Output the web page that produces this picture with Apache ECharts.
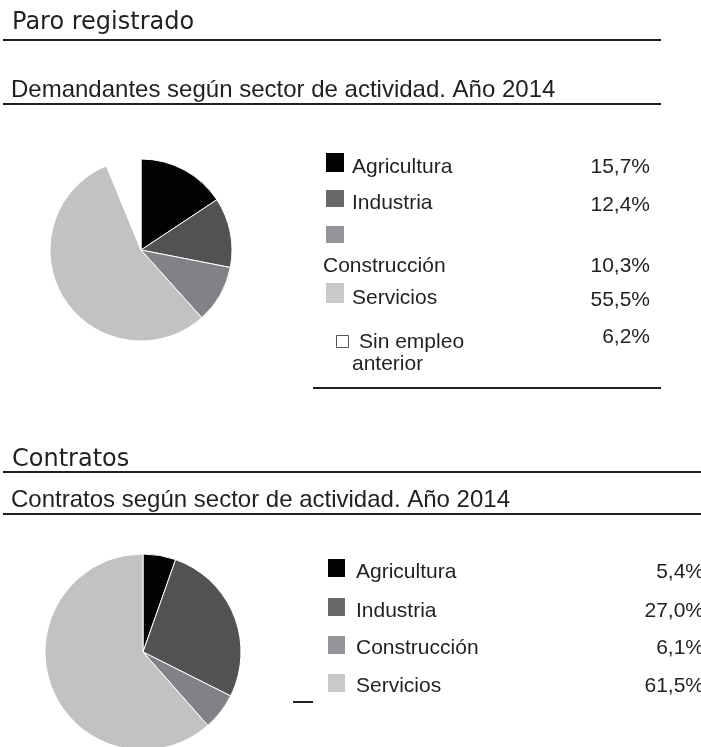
<!DOCTYPE html>
<html>
<head>
<meta charset="utf-8">
<script src="https://cdn.jsdelivr.net/npm/echarts@6/dist/echarts.min.js"></script>
<style>
  html, body { margin: 0; padding: 0; background: #fff; }
  #chart { width: 701px; height: 747px; }
</style>
</head>
<body>
<div id="chart"></div>
<script>
// categories and values (percent)
var paroCategories = ['Agricultura', 'Industria', 'Construcción', 'Servicios', 'Sin empleo anterior'];
var paroValues = [15.7, 12.4, 10.3, 55.5, 6.2];
var contratosCategories = ['Agricultura', 'Industria', 'Construcción', 'Servicios'];
var contratosValues = [5.4, 27.0, 6.1, 61.5];

var sliceColors = ['#030303', '#525254', '#808285', '#c1c2c4', '#ffffff'];
var keyColors = ['#030303', '#68686b', '#939598', '#c8c9cb', '#ffffff'];

var ink = '#231f20';
var chart = echarts.init(document.getElementById('chart'));

function pct(v) {
    return v.toFixed(1).replace('.', ',') + '%';
}

function hline(x1, x2, y) {
    return {
        type: 'line',
        shape: { x1: x1, y1: y, x2: x2, y2: y },
        style: { stroke: ink, lineWidth: 2 }
    };
}

function txt(s, x, y, size, family, align) {
    return {
        type: 'text',
        x: x, y: y,
        style: {
            text: s,
            font: size + 'px ' + family,
            fill: ink,
            align: align || 'left',
            verticalAlign: 'middle'
        }
    };
}

function square(x, y, w, h, color, stroke) {
    return {
        type: 'rect',
        shape: { x: x, y: y, width: w, height: h },
        style: { fill: color, stroke: stroke || null, lineWidth: stroke ? 1 : 0 }
    };
}

var sans = '"Liberation Sans", Arial, sans-serif';
var head = '"DejaVu Sans", sans-serif';

var g = [];
// section headings
g.push(txt('Paro registrado', 12, 23, 24, head));
g.push(hline(3, 661, 40));
g.push(txt('Demandantes según sector de actividad. Año 2014', 11, 90, 24, sans));
g.push(hline(3, 661, 104));
g.push(txt('Contratos', 12, 460, 24, head));
g.push(hline(3, 701, 472));
g.push(txt('Contratos según sector de actividad. Año 2014', 11, 500, 24, sans));
g.push(hline(3, 701, 514));

// key for the first pie
var k1Squares = [[326, 153, 18, 19], [326, 190, 18, 17], [326, 226, 18, 17], [326, 283, 18, 20]];
var k1Text = [[352, 167], [352, 203], [323, 266], [352, 298]];
var k1Pct = [167, 205, 266, 300];
for (var i = 0; i < 4; i++) {
    g.push(square(k1Squares[i][0], k1Squares[i][1], k1Squares[i][2], k1Squares[i][3], keyColors[i]));
    g.push(txt(paroCategories[i], k1Text[i][0], k1Text[i][1], 21, sans));
    g.push(txt(pct(paroValues[i]), 650, k1Pct[i], 21, sans, 'right'));
}
g.push(square(336.5, 335.5, 12, 12, '#ffffff', '#555'));
g.push(txt('Sin empleo', 359, 342, 21, sans));
g.push(txt('anterior', 352, 364, 21, sans));
g.push(txt(pct(paroValues[4]), 650, 337, 21, sans, 'right'));
g.push(hline(313, 661, 388));

// key for the second pie
var k2Top = [559, 598, 636, 674];
var k2Mid = [572, 611, 648, 686];
for (var j = 0; j < 4; j++) {
    g.push(square(328, k2Top[j], 17, 18, keyColors[j]));
    g.push(txt(contratosCategories[j], 356, k2Mid[j], 21, sans));
    g.push(txt(pct(contratosValues[j]), 704, k2Mid[j], 21, sans, 'right'));
}
g.push(hline(293, 313, 702));

function pieData(cats, vals) {
    return cats.map(function (c, i) {
        return { name: c, value: vals[i], itemStyle: { color: sliceColors[i] } };
    });
}

var option = {
    animation: false,
    backgroundColor: '#ffffff',
    graphic: g,
    series: [
        {
            type: 'pie',
            center: [141, 250],
            radius: 91,
            startAngle: 90,
            clockwise: true,
            label: { show: false },
            labelLine: { show: false },
            itemStyle: { borderColor: '#ffffff', borderWidth: 1 },
            emphasis: { disabled: true },
            data: pieData(paroCategories, paroValues)
        },
        {
            type: 'pie',
            center: [143, 652],
            radius: 98,
            startAngle: 90,
            clockwise: true,
            label: { show: false },
            labelLine: { show: false },
            itemStyle: { borderColor: '#ffffff', borderWidth: 1 },
            emphasis: { disabled: true },
            data: pieData(contratosCategories, contratosValues)
        }
    ]
};
chart.setOption(option);
</script>
</body>
</html>
